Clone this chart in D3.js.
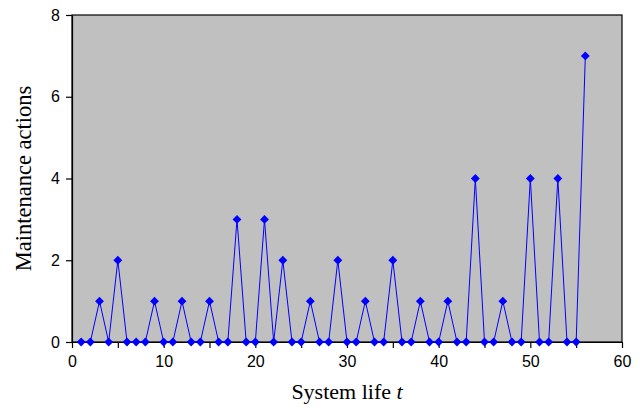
<!DOCTYPE html>
<html>
<head>
<meta charset="utf-8">
<script src="https://cdn.jsdelivr.net/npm/d3@7"></script>
<style>
  html, body { margin: 0; padding: 0; background: #fff; }
  svg { display: block; }
</style>
</head>
<body>
<svg id="chart" width="642" height="408"></svg>
<script>
// Maintenance actions per period over the system life
const periods = d3.range(1, 57);
const actions = [
  0, 0, 1, 0, 2, 0, 0, 0, 1, 0,
  0, 1, 0, 0, 1, 0, 0, 3, 0, 0,
  3, 0, 2, 0, 0, 1, 0, 0, 2, 0,
  0, 1, 0, 0, 2, 0, 0, 1, 0, 0,
  1, 0, 0, 4, 0, 0, 1, 0, 0, 4,
  0, 0, 4, 0, 0, 7
];
const xTicks = [0, 10, 20, 30, 40, 50, 60];
const xMinorTicks = [5, 15, 25, 35, 45, 55];
const yTicks = [0, 2, 4, 6, 8];

const svg = d3.select("#chart");
const margin = { left: 72, right: 20, top: 15, bottom: 66 };
const W = 642, H = 408;

const x = d3.scaleLinear().domain([0, 60]).range([margin.left, W - margin.right]);
const y = d3.scaleLinear().domain([0, 8]).range([H - margin.bottom, margin.top]);

// plot area
svg.append("rect")
  .attr("x", x(0)).attr("y", y(8))
  .attr("width", x(60) - x(0)).attr("height", y(0) - y(8))
  .attr("fill", "#c0c0c0")
  .attr("stroke", "#000").attr("stroke-width", 1.2);

// x axis
svg.append("g")
  .attr("transform", `translate(0,${y(0)})`)
  .call(d3.axisBottom(x).tickValues(xTicks).tickSize(6).tickSizeOuter(0).tickPadding(8));
svg.append("g")
  .attr("transform", `translate(0,${y(0)})`)
  .call(d3.axisBottom(x).tickValues(xMinorTicks).tickSize(6).tickSizeOuter(0).tickFormat(""))
  .select(".domain").remove();

// y axis
svg.append("g")
  .attr("transform", `translate(${x(0)},0)`)
  .call(d3.axisLeft(y).tickValues(yTicks).tickSize(6).tickSizeOuter(0).tickPadding(6));

svg.selectAll(".tick text")
  .attr("font-family", "'Liberation Sans', Arial, sans-serif")
  .attr("font-size", 16)
  .attr("fill", "#000");
svg.selectAll(".domain, .tick line").attr("stroke", "#000").attr("stroke-width", 1.2);

// series
const pts = periods.map((t, i) => [t, actions[i]]);
svg.append("path")
  .datum(pts)
  .attr("fill", "none")
  .attr("stroke", "#0000ff")
  .attr("stroke-width", 1)
  .attr("d", d3.line().x(d => x(d[0])).y(d => y(d[1])));

svg.append("g").selectAll("path")
  .data(pts)
  .join("path")
  .attr("transform", d => `translate(${x(d[0])},${y(d[1])})`)
  .attr("d", d3.symbol(d3.symbolDiamond2, 50))
  .attr("fill", "#0000ff");

// axis titles
svg.append("text")
  .attr("x", (x(0) + x(60)) / 2)
  .attr("y", 399)
  .attr("text-anchor", "middle")
  .attr("font-family", "'Liberation Serif', 'Times New Roman', serif")
  .attr("font-size", 22)
  .attr("fill", "#000")
  .html("System life <tspan font-style='italic'>t</tspan>");

svg.append("text")
  .attr("transform", `translate(31,${(y(0) + y(8)) / 2}) rotate(-90)`)
  .attr("text-anchor", "middle")
  .attr("font-family", "'Liberation Serif', 'Times New Roman', serif")
  .attr("font-size", 22.5)
  .attr("fill", "#000")
  .text("Maintenance actions");
</script>
</body>
</html>
